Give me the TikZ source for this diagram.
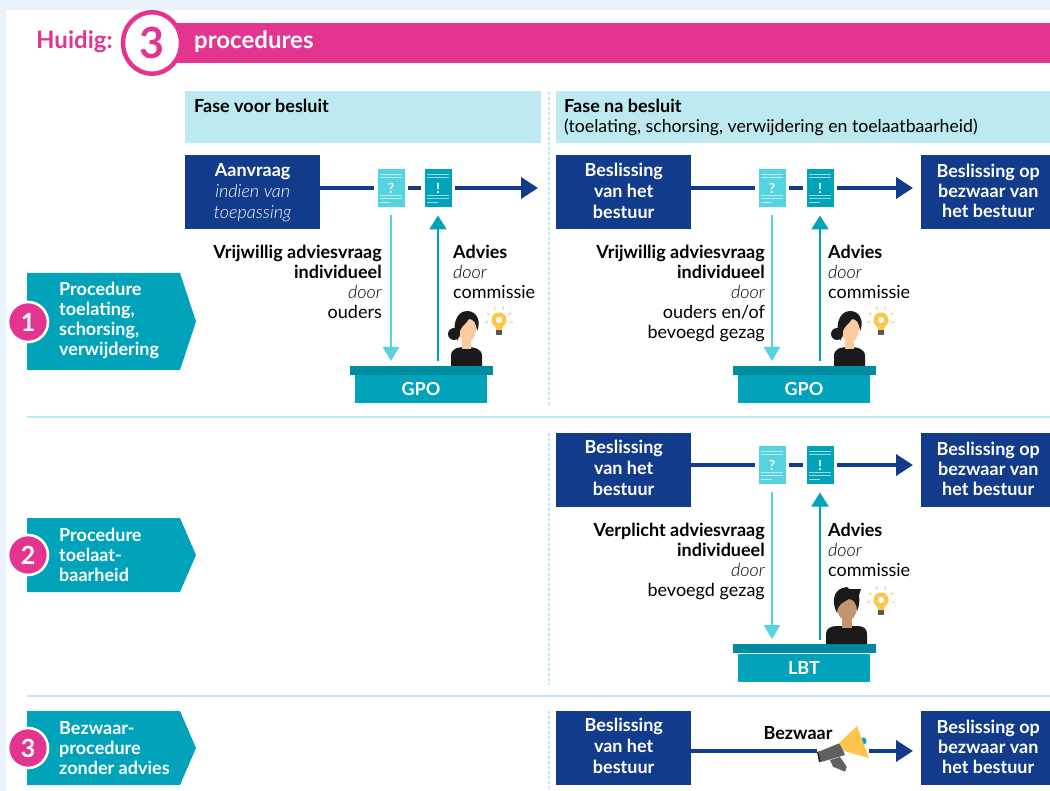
\documentclass[tikz,border=0pt]{standalone}
\usepackage{fontspec}
\setmainfont{Lato}
\newfontfamily\lightit[ItalicFont={Lato Light Italic}]{Lato Light}
\usetikzlibrary{arrows.meta,shapes.geometric}
\definecolor{navy}{HTML}{123B8C}
\definecolor{teal}{HTML}{00A3B9}
\definecolor{dteal}{HTML}{008BA0}
\definecolor{sky}{HTML}{55D3E0}
\definecolor{pale}{HTML}{BDE9F1}
\definecolor{pink}{HTML}{E3358F}
\definecolor{page}{HTML}{EAF3FB}
\definecolor{gold}{HTML}{FDC64B}
\definecolor{skin}{HTML}{FBCB9E}
\definecolor{tan}{HTML}{C4946F}
\definecolor{ink}{HTML}{1A1A1A}
\newcommand{\lit}[1]{{\lightit\fontseries{m}\itshape #1}}
\newcommand{\door}{\lit{door}}
\newcommand{\fs}{\fontsize{18}{20}\selectfont}
\tikzset{
 x=1pt,y=-1pt,
 navybox/.style={fill=navy,text=white,font=\fs\bfseries,align=center,minimum height=74pt,inner sep=0pt,anchor=north west},
 phase/.style={fill=pale,anchor=north west,minimum height=52pt,inner sep=0pt},
 phasetext/.style={anchor=north west,align=left,font=\fs,inner sep=0pt},
 docq/.style={fill=sky,text=white,minimum width=27pt,minimum height=38pt,inner sep=0pt,outer sep=3.5pt,font=\fontsize{14}{14}\selectfont\bfseries},
 doce/.style={docq,fill=teal},
 mainline/.style={draw=navy,line width=3.6pt},
 mainarrow/.style={mainline,-{Triangle[length=17pt,width=21pt]}},
 askarrow/.style={draw=sky,line width=2.4pt,-{Triangle[length=14pt,width=16pt]}},
 advarrow/.style={draw=teal,line width=2.4pt,-{Triangle[length=14pt,width=17pt]}},
 desktop/.style={fill=dteal,minimum width=143pt,minimum height=9pt,inner sep=0pt,outer sep=0pt},
 deskbody/.style={fill=teal,text=white,minimum width=132pt,minimum height=28pt,inner sep=0pt,font=\fs\bfseries},
 rtext/.style={anchor=north east,align=right,font=\fs,inner sep=0pt},
 ltext/.style={anchor=north west,align=left,font=\fs,inner sep=0pt},
 proc/.style={fill=teal},
 proctext/.style={anchor=west,align=left,text=white,font=\fs\bfseries,inner sep=0pt},
 badge/.style={circle,fill=pink,draw=white,line width=2.6pt,minimum size=40pt,inner sep=0pt,text=white,font=\fontsize{25}{25}\selectfont\bfseries},
 sep/.style={draw=pale,line width=2pt},
 vdash/.style={draw=pale,line width=1.4pt,dash pattern=on 3pt off 2pt},
 doclines/.pic={
   \foreach \a/\b/\c in {-14/-11/11,-11/-11/11,7/-11/11,10/-11/11,14/-11/0}
     \draw[white,opacity=.6,line width=.9pt] (\b,\a) -- (\c,\a);
 },
 bulb/.pic={
   \fill[gray!70!black] (-3,10) rectangle (3,15);
   \fill[gold] (0,0) circle (7.5);
   \fill[gold] (-4.5,4) -- (4.5,4) -- (3,10) -- (-3,10) -- cycle;
   \fill[white] (0,0) circle (3);
   \foreach \t in {-150,-110,-70,-30,-190,10}
     \draw[gold,line width=1pt] (\t:11) -- (\t:14);
 },
 woman/.pic={
   \fill[ink] (-15,37) -- (-15,27) .. controls (-15,20) and (-9,18) .. (0,18) .. controls (9,18) and (16,20) .. (16,27) -- (16,37) -- cycle;
   \fill[skin] (-4,8) rectangle (5,20);
   \fill[skin] (1,0) ellipse (9 and 13);
   \fill[ink] (-12,5) circle (6);
   \fill[ink] (-8,12) .. controls (-15,0) and (-11,-18) .. (1,-18) .. controls (12,-18) and (15,-6) .. (11,2) .. controls (10,-6) and (8,-10) .. (3,-10) .. controls (0,-4) and (-7,-4) .. (-8,12) -- cycle;
 },
 man/.pic={
   \fill[ink] (-21,39) -- (-21,29) .. controls (-21,24) and (-17,21) .. (-10,21) -- (10,21) .. controls (17,21) and (20,24) .. (20,29) -- (20,39) -- cycle;
   \fill[tan] (-5,12) rectangle (5,23);
   \fill[tan] (0,2) ellipse (10 and 14);
   \fill[ink] (-10,8) .. controls (-17,-6) and (-12,-17) .. (0,-18) -- (2,-16) -- (14,-16) -- (12,-10) .. controls (13,-4) and (12,2) .. (10,6) .. controls (10,-2) and (6,-6) .. (2,-6) .. controls (-4,-2) and (-9,-2) .. (-10,8) -- cycle;
 },
 mega/.pic={
   \fill[teal] (21,-9) circle (3.5);
   \fill[gray!75!black] (-12,10) -- (-2,7) -- (4.7,16.7) -- (3,21.7) -- (-9,16.7) -- cycle;
   \fill[ink] (-25,2) -- (-23,12) -- (-20,11) -- (-22,1) -- cycle;
   \fill[gray!75!black] (-24,2) -- (-2,-7) -- (3,5) -- (-21,12) -- cycle;
   \fill[gold] (15,-24) -- (27,8) -- (2,1) -- (-3,-7) -- cycle;
 }
}
\begin{document}
\begin{tikzpicture}
\useasboundingbox (0,0) rectangle (1050,791);
\fill[page] (0,0) rectangle (1050,791);
\fill[white] (6,10) rectangle (1050,791);
% header
\fill[pink] (170,23) rectangle (1050,63);
\node[ellipse,draw=pink,fill=white,line width=4.5pt,minimum width=58pt,minimum height=61.5pt,inner sep=0pt,text=pink,font=\fontsize{43}{43}\selectfont\bfseries] (three) at (152,43) {3};
\node[anchor=west,text=pink,font=\fontsize{24}{26}\selectfont\bfseries,inner sep=0pt] (huidig) at (36,42) {Huidig:};
\node[anchor=west,text=white,font=\fontsize{24}{26}\selectfont\bfseries,inner sep=0pt] (procs) at (194,42) {procedures};
% phases
\node[phase,minimum width=356pt] (ph1) at (185,91) {};
\node[phase,minimum width=494pt] (ph2) at (556,91) {};
\node[phasetext] (ph1t) at (194,99) {\bfseries Fase voor besluit};
\node[phasetext] (ph2t) at (564,99) {\bfseries Fase na besluit\\\fontsize{17.7}{20}\selectfont(toelating, schorsing, verwijdering en toelaatbaarheid)};
% separators
\coordinate (s1a) at (27,417); \coordinate (s1b) at (1050,417);
\coordinate (s2a) at (27,696); \coordinate (s2b) at (1050,696);
\draw[sep] (s1a) -- (s1b);
\draw[sep] (s2a) -- (s2b);
\coordinate (v1a) at (549,92); \coordinate (v1b) at (549,405);
\coordinate (v2a) at (549,433); \coordinate (v2b) at (549,685);
\coordinate (v3a) at (549,711); \coordinate (v3b) at (549,791);
\draw[vdash] (v1a) -- (v1b);
\draw[vdash] (v2a) -- (v2b);
\draw[vdash] (v3a) -- (v3b);
% procedure tags
\fill[proc] (27,273) -- (180,273) -- (196,321.5) -- (180,370) -- (27,370) -- cycle;
\fill[proc] (27,518) -- (180,518) -- (196,555) -- (180,592) -- (27,592) -- cycle;
\fill[proc] (27,711) -- (180,711) -- (196,748) -- (180,785) -- (27,785) -- cycle;
\node[proctext] (p1) at (59,320) {Procedure\\toelating,\\schorsing,\\verwijdering};
\node[proctext] (p2) at (59,555) {Procedure\\toelaat-\\baarheid};
\node[proctext] (p3) at (59,748) {Bezwaar-\\procedure\\zonder advies};
\node[badge] (n1) at (28,322) {1};
\node[badge] (n2) at (28,555) {2};
\node[badge] (n3) at (28,748) {3};
% boxes
\node[navybox,minimum width=135pt] (a1) at (185,155) {Aanvraag\\[1pt]\lit{indien van}\\[1pt]\lit{toepassing}};
\node[navybox,minimum width=135pt,text depth=2pt] (b1) at (556,155) {Beslissing\\[1pt]van het\\[1pt]bestuur};
\node[navybox,minimum width=135pt,text depth=4pt] (b2) at (556,433) {Beslissing\\[1pt]van het\\[1pt]bestuur};
\node[navybox,minimum width=135pt,text depth=4pt] (b3) at (556,711) {Beslissing\\[1pt]van het\\[1pt]bestuur};
\node[navybox,minimum width=134pt,text depth=2pt] (r1) at (921,155) {Beslissing op\\bezwaar van\\het bestuur};
\node[navybox,minimum width=134pt,text depth=2pt] (r2) at (921,433) {Beslissing op\\bezwaar van\\het bestuur};
\node[navybox,minimum width=134pt,text depth=2pt] (r3) at (921,711) {Beslissing op\\bezwaar van\\het bestuur};
% docs
\node[docq] (q1) at (391,188) {?}; \path (q1) pic {doclines};
\node[doce] (e1) at (438,188) {!}; \path (e1) pic {doclines};
\node[docq] (q2) at (772,188) {?}; \path (q2) pic {doclines};
\node[doce] (e2) at (820,188) {!}; \path (e2) pic {doclines};
\node[docq] (q3) at (772,465) {?}; \path (q3) pic {doclines};
\node[doce] (e3) at (820,465) {!}; \path (e3) pic {doclines};
% desks
\node[deskbody] (g1) at (421,389) {GPO};
\node[desktop] (t1) at (421.5,370.5) {};
\node[deskbody] (g2) at (804,389) {GPO};
\node[desktop] (t2) at (804,370.5) {};
\node[deskbody] (l3) at (804,667.5) {LBT};
\node[desktop] (t3) at (804,648.5) {};
% main lines
\coordinate (end1) at (538,188);
\draw[mainline] (a1.east |- q1) -- (q1);
\draw[mainline] (q1) -- (e1);
\draw[mainarrow] (e1) -- (end1);
\draw[mainline] (b1.east |- q2) -- (q2);
\draw[mainline] (q2) -- (e2);
\draw[mainarrow,shorten >=8pt] (e2) -- (e2 -| r1.west);
\draw[mainline] (b2.east |- q3) -- (q3);
\draw[mainline] (q3) -- (e3);
\draw[mainarrow,shorten >=8pt] (e3) -- (e3 -| r2.west);
% vertical arrows
\draw[askarrow,shorten <=4.5pt,shorten >=5pt] (q1) -- (q1 |- t1.north);
\draw[advarrow,shorten <=4.5pt,shorten >=5pt] (e1 |- t1.north) -- (e1);
\draw[askarrow,shorten <=4.5pt,shorten >=5pt] (q2) -- (q2 |- t2.north);
\draw[advarrow,shorten <=4.5pt,shorten >=5pt] (e2 |- t2.north) -- (e2);
\draw[askarrow,shorten <=4.5pt,shorten >=5pt] (q3) -- (q3 |- t3.north);
\draw[advarrow,shorten <=4.5pt,shorten >=5pt] (e3 |- t3.north) -- (e3);
% bezwaar row
\node[minimum width=52pt,minimum height=47pt,inner sep=0pt] (megaph) at (843,749) {};
\draw[mainline] (b3.east |- 0,751) -- (megaph.west |- 0,751);
\draw[mainarrow,shorten >=8pt] (megaph.east |- 0,751) -- (r3.west |- 0,751);
\path (842,750) pic {mega};
\node[font=\fs\bfseries,inner sep=0pt] (bzw) at (798,733) {Bezwaar};
% labels
\node[rtext] (t1a) at (382,245) {\bfseries Vrijwillig adviesvraag\\\bfseries individueel\\\door\\ouders};
\node[ltext] (t1b) at (453,245) {\bfseries Advies\\\door\\commissie};
\node[rtext] (t2a) at (765,245) {\bfseries Vrijwillig adviesvraag\\\bfseries individueel\\\door\\ouders en/of\\bevoegd gezag};
\node[ltext] (t2b) at (828,245) {\bfseries Advies\\\door\\commissie};
\node[rtext] (t3a) at (765,523) {\bfseries Verplicht adviesvraag\\\bfseries individueel\\\door\\bevoegd gezag};
\node[ltext] (t3b) at (828,523) {\bfseries Advies\\\door\\commissie};
% people
\path (466,329) pic {woman};
\path (849,329) pic {woman};
\path (847,605) pic {man};
\path (499,320) pic {bulb};
\path (881,320) pic {bulb};
\path (881,600) pic {bulb};
\end{tikzpicture}
\end{document}
